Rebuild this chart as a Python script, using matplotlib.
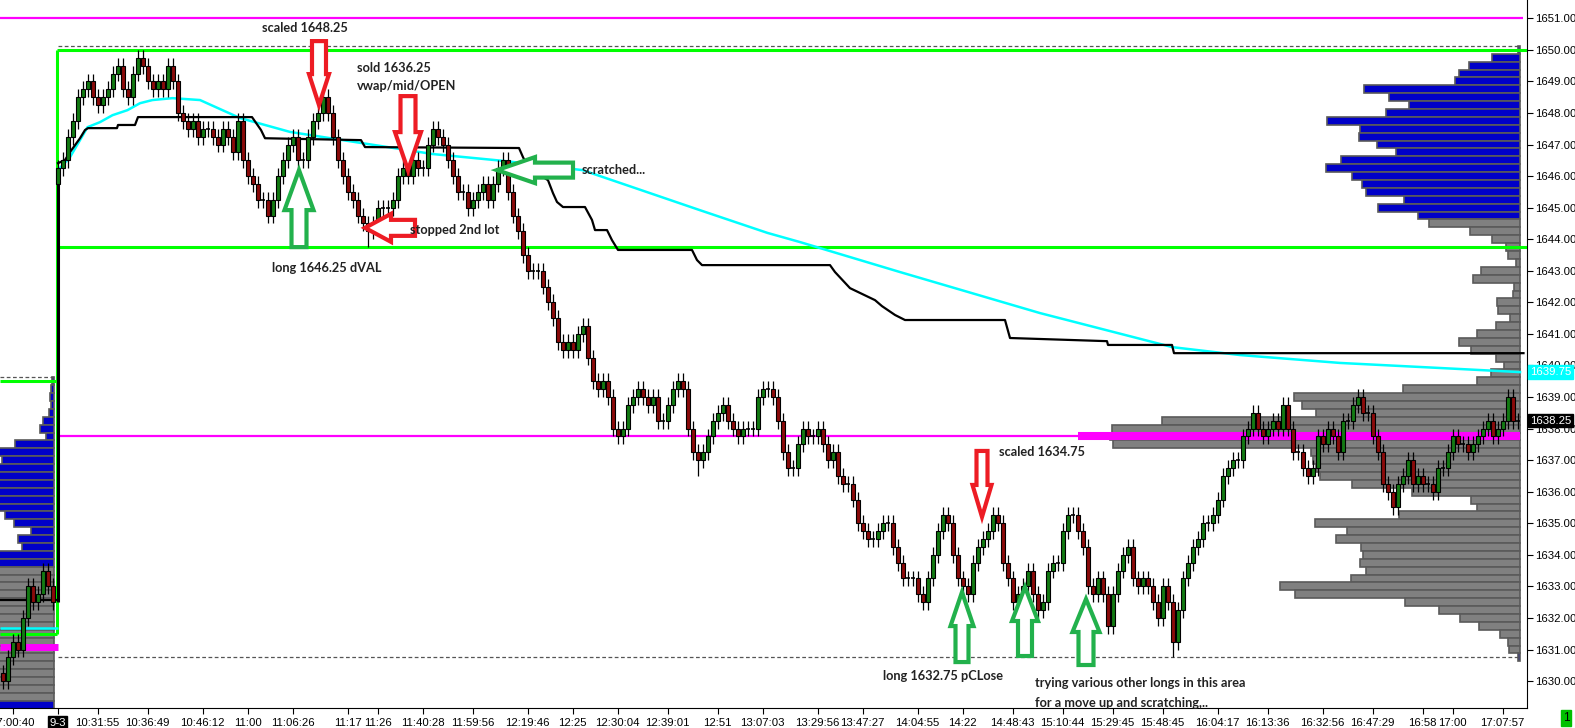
import numpy as np
import matplotlib
matplotlib.use("Agg")
import matplotlib.pyplot as plt
from matplotlib.patches import Polygon, Rectangle

plt.rcParams['font.family'] = ['Liberation Sans', 'DejaVu Sans']

# ---- chart geometry (pixels of the saved image) ----
PLOT_W, PLOT_H = 1527, 708
BAR_PX = 5.0          # one bar every 5 px
PT_PX = 31.56         # one index point in px
X0 = -0.5
X1 = X0 + PLOT_W / BAR_PX
Y_TOP = 1651.58
Y_BOT = Y_TOP - PLOT_H / PT_PX
TICK = 0.25
BASE = 1630.0

# ---- data ----
# closes in ticks (0.25) above 1630.00
prev_first_open = 1
prev_closes = [0, 3, 5, 4, 8, 12, 10, 11, 14, 12, 10]
sess_first_open = 63
sess_closes = [
    65, 66, 69, 71, 74, 75, 76, 74, 73, 74, 75, 77, 78, 75, 74, 77, 79, 78, 76, 75,
    76, 75, 78, 76, 72, 71, 70, 71, 69, 70, 70, 69, 68, 70, 69, 67, 71, 66, 64, 63,
    61, 61, 59, 61, 64, 66, 68, 69, 66, 66, 69, 71, 72, 74, 72, 69, 66, 64, 62, 61,
    59, 58, 57, 58, 60, 60, 60, 61, 64, 65, 64, 66, 65, 65, 68, 70, 69, 68, 66, 64,
    62, 62, 60, 61, 62, 63, 61, 63, 65, 66, 62, 59, 57, 54, 52, 52, 52, 50, 48, 46,
    43, 42, 43, 42, 44, 45, 41, 38, 37, 38, 36, 32, 31, 32, 35, 36, 37, 36, 35, 36,
    33, 33, 35, 37, 38, 37, 32, 29, 28, 29, 31, 33, 34, 35, 33, 32, 31, 32, 32, 32,
    36, 37, 37, 36, 33, 29, 27, 27, 30, 32, 31, 31, 32, 30, 28, 29, 26, 25, 25, 23,
    20, 19, 18, 18, 19, 20, 20, 17, 15, 13, 13, 13, 11, 10, 13, 16, 19, 21, 20, 16,
    13, 12, 11, 15, 17, 18, 19, 21, 20, 15, 13, 10, 11, 12, 14, 11, 9, 10, 14, 15,
    15, 19, 21, 21, 19, 17, 12, 11, 13, 11, 7, 11, 14, 16, 17, 13, 12, 13, 12, 10,
    8, 12, 10, 5, 9, 13, 15, 17, 18, 20, 20, 21, 23, 26, 27, 28, 28, 31, 32, 34,
    32, 31, 32, 33, 32, 35, 32, 29, 29, 27, 26, 27, 31, 30, 32, 31, 29, 33, 33, 35,
    36, 34, 34, 31, 29, 25, 24, 22, 25, 26, 28, 25, 26, 25, 25, 24, 27, 27, 29, 31,
    30, 30, 29, 30, 31, 32, 33, 31, 32, 33, 36, 33, 33,
]
# bars with longer wicks: bar -> (ticks above body, ticks below body)
long_wicks = {73: (1, 2), 234: (1, 2), 139: (1, 2), 271: (1, 1)}

# VWAP (cyan) and the stepped black level, as (bar, price)
vwap_bar = [11.1, 13.5, 15.5, 17, 19.5, 22, 25, 27.5, 30, 34, 39.5, 47.5, 57.5, 71.7,
            86, 100.3, 116, 126, 139.5, 153, 159.5, 179.5, 207.5, 234, 247.5, 267.5,
            287.5, 303.5]
vwap_price = [1646.19, 1646.60, 1647.14, 1647.55, 1647.71, 1647.93, 1648.09, 1648.31,
              1648.41, 1648.47, 1648.41, 1647.84, 1647.40, 1647.05, 1646.70, 1646.48,
              1646.19, 1645.65, 1644.92, 1644.20, 1643.91, 1642.96, 1641.66, 1640.58,
              1640.33, 1640.08, 1639.92, 1639.79]
black_bar = [11.1, 12.5, 13.5, 15.5, 16.5, 17.1, 22.9, 23.1, 26.5, 27.1, 49.9, 51.7,
             52.5, 71.7, 72.5, 103.3, 104.1, 105.1, 107.5, 108.1, 109.1, 110.1, 110.9,
             112.1, 116.5, 117.9, 118.5, 120.9, 121.9, 123.1, 137.9, 138.9, 139.9,
             165.5, 166.5, 169.5, 174.5, 175.9, 178.5, 180.5, 200.5, 201.5, 220.9,
             221.1, 233.9, 234.3, 304.2]
black_price = [1646.41, 1646.51, 1646.76, 1647.20, 1647.46, 1647.52, 1647.52, 1647.62,
               1647.62, 1647.87, 1647.87, 1647.46, 1647.20, 1647.14, 1646.92, 1646.89,
               1646.60, 1646.29, 1646.29, 1645.97, 1645.87, 1645.46, 1645.18, 1645.02,
               1645.02, 1644.61, 1644.29, 1644.29, 1643.97, 1643.66, 1643.66, 1643.34,
               1643.18, 1643.18, 1642.96, 1642.45, 1642.07, 1641.88, 1641.60, 1641.44,
               1641.44, 1640.87, 1640.77, 1640.65, 1640.65, 1640.39, 1640.39]

# volume profiles (px-long bars), one per 0.25, listed from the top price down
right_prof_top = 1650.0
right_prof_vol = [2, 28, 51, 61, 65, 156, 131, 111, 134, 193, 160, 161, 143, 124, 179,
                  194, 168, 158, 154, 116, 142, 102, 91, 50, 28, 14, 12, 4, 39, 47, 6,
                  7, 23, 22, 10, 24, 43, 61, 49, 24, 16, 29, 43, 117, 226, 218, 204,
                  358, 408, 410, 407, 209, 207, 204, 200, 168, 108, 49, 43, 121, 205,
                  173, 184, 159, 157, 160, 154, 169, 240, 225, 115, 81, 60, 41, 20, 12,
                  11, 2]
left_prof_top = 1639.5
left_prof_vol = [2, 3, 4, 3, 5, 11, 14, 8, 39, 70, 52, 64, 60, 66, 62, 58, 61, 49, 40,
                 23, 36, 32, 58, 66, 72, 78, 85, 80, 90, 95, 88, 92, 100, 96, 90, 84,
                 80, 76, 70, 66, 62, 60]

# reference levels
prev_va = (1631.5, 1639.5)
prev_high = 1639.625
prev_vwap = 1631.68
prev_level = 1632.57
prev_poc = 1631.08
sess_va = (1643.75, 1650.0)
sess_high = 1650.125
sess_low = 1630.75
mag_top = 1651.0
mag_mid = 1637.75
sess_poc = 1637.75

tick_bars = [2, 11, 19, 29, 40, 49, 58, 69, 75, 84, 94, 105, 114, 123, 133, 143, 152,
             163, 172, 183, 192, 202, 212, 222, 232, 243, 253, 264, 274, 284, 290, 300]
tick_labels = ["17:00:40", "9-3", "10:31:55", "10:36:49", "10:46:12", "11:00",
               "11:06:26", "11:17", "11:26", "11:40:28", "11:59:56", "12:19:46", "12:25",
               "12:30:04", "12:39:01", "12:51", "13:07:03", "13:29:56", "13:47:27",
               "14:04:55", "14:22", "14:48:43", "15:10:44", "15:29:45", "15:48:45",
               "16:04:17", "16:13:36", "16:32:56", "16:47:29", "16:58", "17:00", "17:07:57"]

# ---- figure ----
fig = plt.figure(figsize=(15.75, 7.28), dpi=100)
ax = fig.add_axes([0, 20 / 728, PLOT_W / 1575, PLOT_H / 728])
ax.set_xlim(X0, X1)
ax.set_ylim(Y_BOT, Y_TOP)

GREEN_LINE = '#00ff00'
MAGENTA = '#ff00ff'
CYAN = '#00ffff'
BLUE = '#0000c8'
GRAY = '#808080'
EDGE = '#5a5a5a'


def px_w(px):
    return px / BAR_PX


def px_h(px):
    return px / PT_PX


# volume profiles
rp = right_prof_top - TICK * np.arange(len(right_prof_vol))
rv = np.array(right_prof_vol) / BAR_PX
r_edge = 303.5
r_cols = [BLUE if (p >= 1644.75 or p <= 1630.75) else GRAY for p in rp]
ax.barh(rp, rv, left=r_edge - rv, height=TICK, color=r_cols, edgecolor=EDGE,
        linewidth=1.2, zorder=1)
lp = left_prof_top - TICK * np.arange(len(left_prof_vol))
lv = np.array(left_prof_vol) / BAR_PX
l_edge = 10.3
l_cols = [BLUE if (p >= 1633.75 or p <= 1629.25) else GRAY for p in lp]
ax.barh(lp, lv, left=l_edge - lv, height=TICK, color=l_cols, edgecolor=EDGE,
        linewidth=1.2, zorder=1)

# level lines
ax.hlines(mag_top, X0, 304, color=MAGENTA, lw=1.6, zorder=2)
ax.hlines(mag_mid, 11, 303.5, color=MAGENTA, lw=1.6, zorder=2)
ax.hlines(sess_poc, 215, 303.5, color=MAGENTA, lw=5.8, zorder=2)
ax.hlines(prev_poc, X0, 11, color=MAGENTA, lw=5.0, zorder=2)
ax.hlines([sess_high, sess_low], 11, 303.3, color='#555555', lw=0.9,
          linestyles=(0, (3, 2)), zorder=2)
ax.hlines(prev_high, X0, 10.5, color='#555555', lw=0.9, linestyles=(0, (3, 2)), zorder=2)
ax.hlines(list(sess_va), 10.95, X1, color=GREEN_LINE, lw=2.2, zorder=3)
ax.vlines(10.95, prev_va[1], sess_va[1], color=GREEN_LINE, lw=2.2, zorder=3)
ax.hlines(list(prev_va), X0, 10.95, color=GREEN_LINE, lw=2.2, zorder=3)
ax.vlines(10.95, prev_va[0], prev_va[1], color=GREEN_LINE, lw=2.2, zorder=3)
ax.hlines(prev_vwap, X0, 11, color=CYAN, lw=1.8, zorder=3)
ax.hlines(prev_level, X0, 11, color='black', lw=1.6, zorder=3)

ax.plot(vwap_bar, vwap_price, color=CYAN, lw=1.8, zorder=3)
ax.plot(black_bar, black_price, color='black', lw=1.6, zorder=3)

# candles
closes = prev_closes + sess_closes
opens = [prev_first_open] + prev_closes[:-1] + [sess_first_open] + sess_closes[:-1]
n_prev = len(prev_closes)
ax.vlines(n_prev + 0.15, prev_closes[-1] * TICK + BASE, sess_first_open * TICK + BASE,
          color='black', lw=2.2, zorder=4)
for i, (o_t, c_t) in enumerate(zip(opens, closes)):
    o = BASE + o_t * TICK
    c = BASE + c_t * TICK
    up, dn = long_wicks.get(i, (1, 1))
    ax.vlines(i, min(o, c) - dn * TICK, max(o, c) + up * TICK, color='black',
              lw=0.9, zorder=4)
    if c != o:
        ax.add_patch(Rectangle((i - 0.4, min(o, c)), 0.8, abs(c - o),
                               facecolor='#137a13' if c > o else '#8b0a0a',
                               edgecolor='black', lw=0.8, zorder=5))
    else:
        ax.hlines(c, i - 0.4, i + 0.4, color='black', lw=1.2, zorder=5)


# hand-drawn block arrows: tip in data coords, sizes in px
def block_arrow(tx, ty, direction, head_len, head_hw, shaft_hw, shaft_len, color):
    uv = [(0, 0), (-head_len, head_hw), (-head_len, shaft_hw),
          (-head_len - shaft_len, shaft_hw), (-head_len - shaft_len, -shaft_hw),
          (-head_len, -shaft_hw), (-head_len, -head_hw)]
    pts = []
    for u, v in uv:
        if direction == 'down':
            pts.append((tx + px_w(v), ty - px_h(u)))
        elif direction == 'up':
            pts.append((tx + px_w(v), ty + px_h(u)))
        else:
            pts.append((tx - px_w(u), ty + px_h(v)))
    ax.add_patch(Polygon(pts, closed=True, facecolor='white', edgecolor=color,
                         lw=3.0, joinstyle='miter', zorder=6))


RED = '#ed1c24'
GRN = '#22b14c'
block_arrow(63.3, 1648.25, 'down', 31, 10, 7, 33, RED)
block_arrow(81.1, 1646.19, 'down', 38, 13, 7.5, 36, RED)
block_arrow(72.5, 1644.36, 'left', 26, 14, 8, 24, RED)
block_arrow(59.3, 1646.19, 'up', 40, 14.5, 7.5, 37, GRN)
block_arrow(98.9, 1646.19, 'left', 38, 13, 7.5, 38, GRN)
block_arrow(195.9, 1635.20, 'down', 32, 9.5, 5.5, 34, RED)
block_arrow(191.9, 1632.82, 'up', 34, 11.5, 6.5, 36, GRN)
block_arrow(204.5, 1632.98, 'up', 34, 13, 7, 35, GRN)
block_arrow(216.7, 1632.60, 'up', 33, 13.5, 7.5, 33, GRN)

notes = [
    ("scaled 1648.25", 51.9, 1650.69),
    ("sold 1636.25", 70.9, 1649.43),
    ("vwap/mid/OPEN", 70.9, 1648.86),
    ("stopped 2nd lot", 81.5, 1644.29),
    ("long 1646.25 dVAL", 53.9, 1643.09),
    ("scratched...", 115.9, 1646.19),
    ("scaled 1634.75", 199.3, 1637.26),
    ("long 1632.75 pCLose", 176.1, 1630.16),
    ("trying various other longs in this area", 206.5, 1629.94),
    ("for a move up and scratching,..", 206.5, 1629.31),
]
for txt, x, y in notes:
    ax.text(x, y, txt, ha='left', va='center', fontsize=9.2, fontweight='bold',
            family=['Lato', 'DejaVu Sans'], color='#222222', zorder=7)

# axes styling
for s in ('left', 'top'):
    ax.spines[s].set_visible(False)
ax.spines['right'].set_color('black')
ax.spines['bottom'].set_color('black')
ax.yaxis.tick_right()
ax.set_yticks(np.arange(1630, 1652))
ax.set_yticklabels([f"{v:.2f}" for v in np.arange(1630, 1652)])
ax.tick_params(axis='y', length=4, pad=2, labelsize=8.2, colors='black')
ax.set_xticks(tick_bars)
ax.set_xticklabels(tick_labels)
ax.tick_params(axis='x', length=4, pad=3, labelsize=8.2, colors='black')
sep = ax.get_xticklabels()[1]
sep.set_color('white')
sep.set_bbox(dict(facecolor='black', edgecolor='black', pad=1.0))

# price flags on the scale
ax.text(1.002, vwap_price[-1], "1639.75", transform=ax.get_yaxis_transform(),
        ha='left', va='center', fontsize=8.2, color='white', zorder=8, clip_on=False,
        bbox=dict(facecolor=CYAN, edgecolor=CYAN, pad=1.2))
ax.text(1.002, BASE + sess_closes[-1] * TICK, "1638.25",
        transform=ax.get_yaxis_transform(), ha='left', va='center', fontsize=8.2,
        color='white', zorder=8, clip_on=False,
        bbox=dict(facecolor='black', edgecolor='black', pad=1.2))
fig.text(1566 / 1575, 1 - 718 / 728, "1", ha='center', va='center', fontsize=8.5,
         color='black', bbox=dict(facecolor='#00c000', edgecolor='#00c000', pad=1.5))

fig.savefig("out.png", dpi=100, facecolor='white')
